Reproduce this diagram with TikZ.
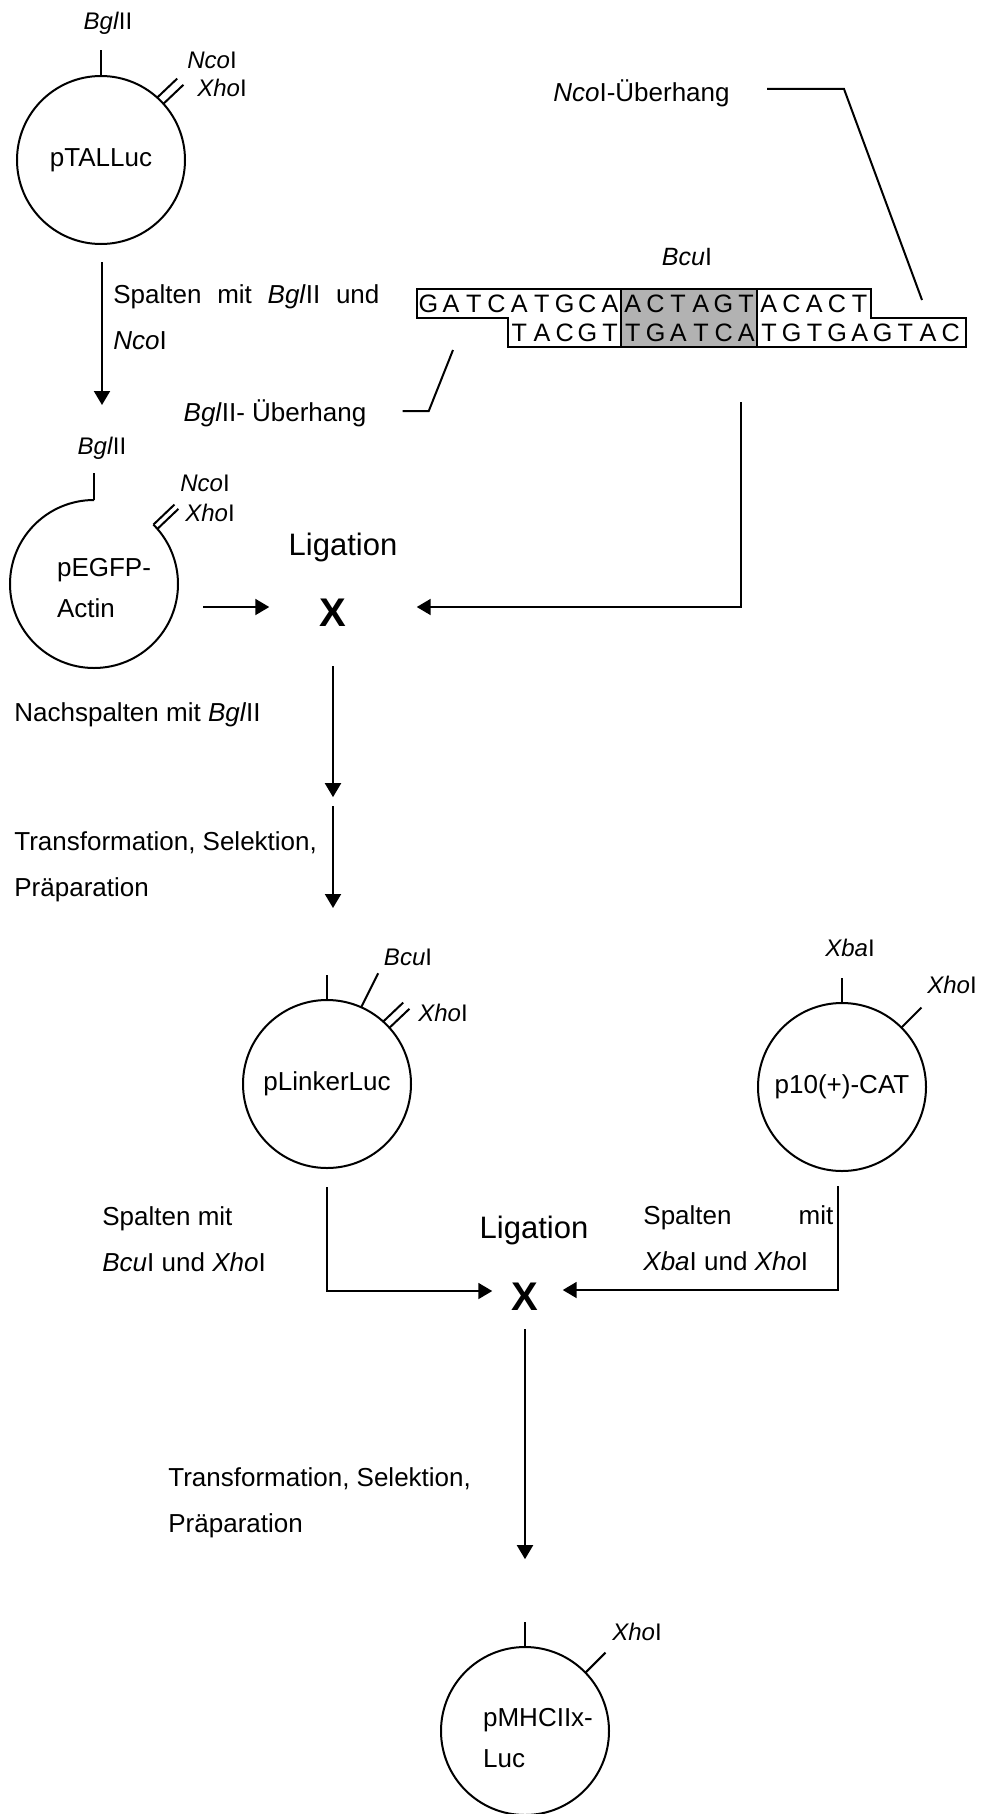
\documentclass[tikz,border=0pt]{standalone}
\usepackage{fontspec}
\setmainfont{Liberation Sans}
\usetikzlibrary{arrows.meta}

\newcommand{\Bgl}{\textit{Bgl}II}
\newcommand{\Nco}{\textit{Nco}I}
\newcommand{\Xho}{\textit{Xho}I}
\newcommand{\Bcu}{\textit{Bcu}I}
\newcommand{\Xba}{\textit{Xba}I}

\begin{document}
\begin{tikzpicture}[
        x=0.5pt, y=-0.5pt,
        every node/.style={font=\fontsize{13}{23}\selectfont, inner sep=0pt},
        plasmid/.style={circle, draw=black, line width=1pt, minimum size=84pt, outer sep=0pt},
        plasmidtext/.style={align=left, font=\fontsize{13}{20.5}\selectfont},
        enzyme/.style={font=\fontsize{12}{14}\selectfont},
        site/.style={line width=1pt},
        nucleotide/.style={font=\fontsize{12.6}{14}\selectfont},
        strand/.style={draw=black, line width=1.1pt},
        ligation/.style={font=\fontsize{15.5}{18}\selectfont},
        ligmark/.style={font=\fontsize{20}{24}\selectfont\bfseries},
        steptext/.style={align=left, anchor=north west},
        arrow/.style={-{Triangle[length=7pt, width=8pt]}, line width=1pt}
        ]
        \useasboundingbox (0,0) rectangle (983,1814);

        % Vector pTALLuc
        \node[plasmid] (taluc) at (101,160) {pTALLuc};
        \draw[site] (taluc.90) -- ++(0,-26);
        \draw[site] (taluc.48) -- ++(20,-19);
        \draw[site] (taluc.42) -- ++(20,-19);
        \node[enzyme] (bgl1) at (108,23) {\Bgl};
        \node[enzyme] (nco1) at (212,60) {\Nco};
        \node[enzyme] (xho1) at (222,88) {\Xho};

        \draw[arrow] (taluc.south) ++(1,18) -- ++(0,143);
        \node[steptext] (spalten1) at (113,284) {\makebox[133pt]{Spalten\hfill mit\hfill \Bgl\hfill und}\\\Nco};

        % Linker (BcuI site)
        \fill[black!30] (621,289) rectangle (757,347);
        \draw[strand] (417,289) -- (621,289) -- (621,347) -- (508,347) -- (508,318) -- (417,318) -- cycle;
        \draw[strand] (621,289) rectangle (757,347);
        \draw[strand] (757,289) -- (871,289) -- (871,318) -- (966,318) -- (966,347) -- (757,347) -- cycle;
        \foreach \b [count=\i] in {G,A,T,C,A,T,G,C,A,A,C,T,A,G,T,A,C,A,C,T}
            \node[nucleotide] (top\i) at ({417+22.7*(\i-0.5)},303.5) {\b};
        \foreach \b [count=\i] in {T,A,C,G,T,T,G,A,T,C,A,T,G,T,G,A,G,T,A,C}
            \node[nucleotide] (bot\i) at ({508+22.7*(\i-0.5)},332.5) {\b};
        \node[font=\fontsize{12.5}{14}\selectfont] (bcu1) at (687,257) {\Bcu};

        % Overhang labels
        \node[anchor=east] (ncouber) at (730,93) {\Nco-Überhang};
        \coordinate (ncoend) at (922,300);
        \draw[site] (ncouber.east) ++(37,-4) -- ++(77,0) -- (ncoend);
        \node (bgluber) at (275,413) {\Bgl- Überhang};
        \coordinate (bglend) at (453,350);
        \draw[site] (bgluber.east) ++(36,-2) -- ++(26,0) -- (bglend);

        % Vector pEGFP-Actin (opened)
        \node[plasmid, draw=none] (egfp) at (94,584) {};
        \draw[site] (egfp.90) arc[start angle=90, end angle=405, radius=42pt];
        \node[plasmidtext] (egfptext) at (104,588) {pEGFP-\\Actin};
        \draw[site] (egfp.90) -- ++(0,-27);
        \draw[site] (egfp.45) -- ++(21,-20);
        \draw[site] (egfp.41) -- ++(21,-20);
        \node[enzyme] (bgl2) at (102,448) {\Bgl};
        \node[enzyme] (nco2) at (205,483) {\Nco};
        \node[enzyme] (xho2) at (210,513) {\Xho};

        % First ligation
        \node[ligation] (lig1) at (343,547) {Ligation};
        \node[ligmark] (x1) at (333,613) {X};
        \draw[arrow] ([xshift=12.5pt, yshift=-11.5pt]egfp.east) -- ([xshift=-25pt, yshift=3pt]x1.west);
        \coordinate (dnadrop) at (741,402);
        \draw[arrow] (dnadrop) |- ([xshift=35pt, yshift=3pt]x1.east);

        \node[anchor=west] (nach) at (14,715) {Nachspalten mit \Bgl};
        \draw[arrow] (x1.south) ++(0,39) -- ++(0,131);
        \coordinate (transf1) at (333,806);
        \draw[arrow] (transf1) -- ++(0,102);
        \node[steptext] (transf1text) at (14,831) {Transformation, Selektion,\\Präparation};

        % Vector pLinkerLuc
        \node[plasmid] (linker) at (327,1084) {pLinkerLuc};
        \draw[site] (linker.90) -- ++(0,-25);
        \draw[site] (linker.66) -- ++(17,-34);
        \draw[site] (linker.48) -- ++(20,-19);
        \draw[site] (linker.42) -- ++(20,-19);
        \node[enzyme] (bcu2) at (408,957) {\Bcu};
        \node[enzyme] (xho3) at (443,1013) {\Xho};

        % Vector p10(+)-CAT
        \node[plasmid] (cat) at (842,1087) {p10(+)-CAT};
        \draw[site] (cat.90) -- ++(0,-25);
        \draw[site] (cat.45) -- ++(20,-20);
        \node[enzyme] (xba) at (850,948) {\Xba};
        \node[enzyme] (xho4) at (952,985) {\Xho};

        % Second ligation
        \node[steptext] (spalten2) at (102,1206) {Spalten mit\\\Bcu{} und \Xho};
        \node[steptext] (spalten3) at (643,1205) {\makebox[95pt]{Spalten\hfill mit}\\\Xba{} und \Xho};
        \node[ligation] (lig2) at (534,1230) {Ligation};
        \node[ligmark] (x2) at (525,1297) {X};
        \draw[arrow] ([yshift=-9.5pt]linker.south) |- ([xshift=-9.5pt, yshift=3pt]x2.west);
        \draw[arrow] ([xshift=-2pt, yshift=-7.5pt]cat.south) |- ([xshift=12pt, yshift=3.5pt]x2.east);

        \draw[arrow] (x2.south) ++(0,18) -- ++(0,230);
        \node[steptext] (transf2text) at (168,1467.5) {Transformation, Selektion,\\Präparation};

        % Vector pMHCIIx-Luc
        \node[plasmid] (mhc) at (525,1731) {};
        \node[plasmidtext] (mhctext) at (538,1738.5) {pMHCIIx-\\Luc};
        \draw[site] (mhc.90) -- ++(0,-25);
        \draw[site] (mhc.44) -- ++(20,-20);
        \node[enzyme] (xho5) at (637,1632) {\Xho};

    \end{tikzpicture}
\end{document}
